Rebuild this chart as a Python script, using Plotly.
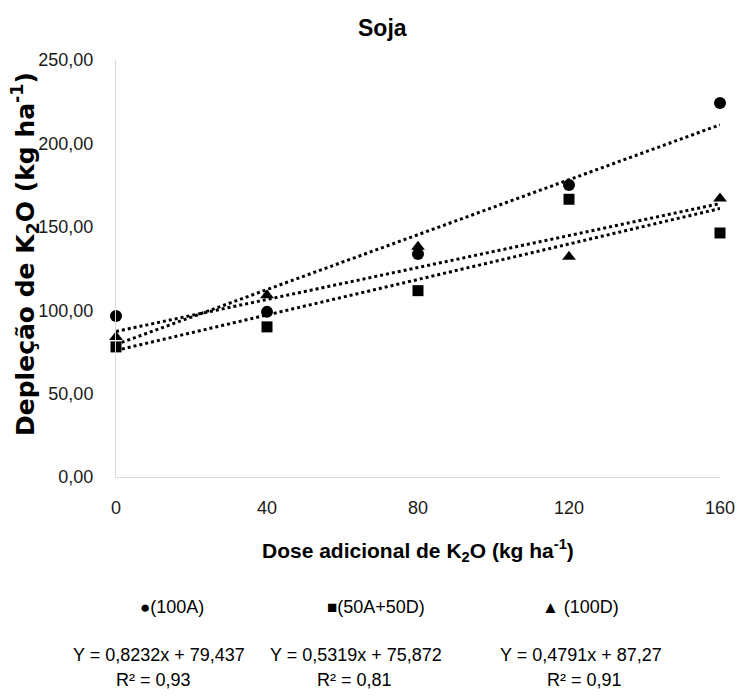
import plotly.graph_objects as go

# ---- data ----
doses = [0, 40, 80, 120, 160]
dep_100A = [96.5, 99.0, 133.7, 175.0, 224.2]
dep_50A50D = [78.0, 90.0, 111.7, 166.5, 146.3]
dep_100D = [84.0, 109.0, 138.0, 132.0, 167.0]

series_names = ["(100A)", "(50A+50D)", "(100D)"]
slopes = [0.8232, 0.5319, 0.4791]
intercepts = [79.437, 75.872, 87.27]
eq_texts = ["Y = 0,8232x + 79,437", "Y = 0,5319x + 75,872", "Y = 0,4791x + 87,27"]
r2_texts = ["R² = 0,93", "R² = 0,81", "R² = 0,91"]

y_tickvals = [0, 50, 100, 150, 200, 250]
y_ticktext = ["0,00", "50,00", "100,00", "150,00", "200,00", "250,00"]
x_tickvals = [0, 40, 80, 120, 160]
x_ticktext = ["0", "40", "80", "120", "160"]

SANS = "Liberation Sans, Arial, sans-serif"
WIDE = "DejaVu Sans, Verdana, sans-serif"
TXT = "#1a1a1a"

W, H = 738, 697
L, R, T, B = 116, 18, 60, 220
pw, ph = W - L - R, H - T - B

def px(x):
    return (x - L) / pw

def py(y):
    return (H - B - y) / ph

fig = go.Figure()

symbols = ["circle", "square", "triangle-up"]
sizes = [12, 11, 12]
for name, ys, sym, sz, m, b in zip(series_names, [dep_100A, dep_50A50D, dep_100D],
                                   symbols, sizes, slopes, intercepts):
    fig.add_trace(go.Scatter(x=doses, y=ys, mode="markers", name=name,
                             marker=dict(symbol=sym, size=sz, color="black"),
                             cliponaxis=False, showlegend=False))
    trend = [m * d + b for d in doses]
    fig.add_trace(go.Scatter(x=doses, y=trend, mode="lines",
                             line=dict(color="black", width=3, dash="dot"),
                             showlegend=False, hoverinfo="skip"))

fig.update_layout(
    width=W, height=H,
    margin=dict(l=L, r=R, t=T, b=B, autoexpand=False),
    plot_bgcolor="white", paper_bgcolor="white",
    showlegend=False,
    font=dict(family=SANS, size=18, color=TXT),
)
fig.update_xaxes(range=[0, 160], tickvals=x_tickvals, ticktext=x_ticktext,
                 showgrid=False, zeroline=False, showline=True, automargin=False,
                 linecolor="#d9d9d9", linewidth=1, ticks="",
                 ticklabelstandoff=14,
                 tickfont=dict(family=SANS, size=18, color=TXT))
fig.update_yaxes(range=[0, 250], tickvals=y_tickvals, ticktext=y_ticktext,
                 showgrid=False, zeroline=False, showline=True, automargin=False,
                 linecolor="#d9d9d9", linewidth=1, ticks="",
                 ticklabelstandoff=18,
                 tickfont=dict(family=SANS, size=18, color=TXT))

ann = []
# title
ann.append(dict(text="<b>Soja</b>", x=px(382), y=py(28), xref="paper", yref="paper",
                showarrow=False, xanchor="center", yanchor="middle",
                font=dict(family=SANS, size=23, color="black")))
# x title
ann.append(dict(text="<b>Dose adicional de K<sub>2</sub>O (kg ha<sup>-1</sup>)</b>",
                x=px(418), y=py(550), xref="paper", yref="paper",
                showarrow=False, xanchor="center", yanchor="middle",
                font=dict(family=SANS, size=21, color="black")))
# y title
ann.append(dict(text="<b>Depleção de K<sub>2</sub>O (kg ha<sup>-1</sup>)</b>",
                x=px(25), y=py(254), xref="paper", yref="paper",
                showarrow=False, xanchor="center", yanchor="middle", textangle=-90,
                font=dict(family=WIDE, size=25, color="black")))
# legend-like labels
leg_syms = ["●", "■", "▲"]
leg_x = [172, 376, 580]
eq_x = [159, 356, 581]
r2_x = [153, 354, 584]
for s, n, lx, ex, rx, et, rt in zip(leg_syms, series_names, leg_x, eq_x, r2_x, eq_texts, r2_texts):
    ann.append(dict(text=f"<span style='font-size:17px'>{s}</span>{' ' if s == '▲' else ''}{n}",
                    x=px(lx), y=py(607), xref="paper", yref="paper",
                    showarrow=False, xanchor="center", yanchor="middle",
                    font=dict(family=SANS, size=18, color="black")))
    ann.append(dict(text=et, x=px(ex), y=py(655), xref="paper", yref="paper",
                    showarrow=False, xanchor="center", yanchor="middle",
                    font=dict(family=SANS, size=18, color="black")))
    ann.append(dict(text=rt, x=px(rx), y=py(680), xref="paper", yref="paper",
                    showarrow=False, xanchor="center", yanchor="middle",
                    font=dict(family=SANS, size=18, color="black")))
fig.update_layout(annotations=ann)

fig.write_html("out.html")
